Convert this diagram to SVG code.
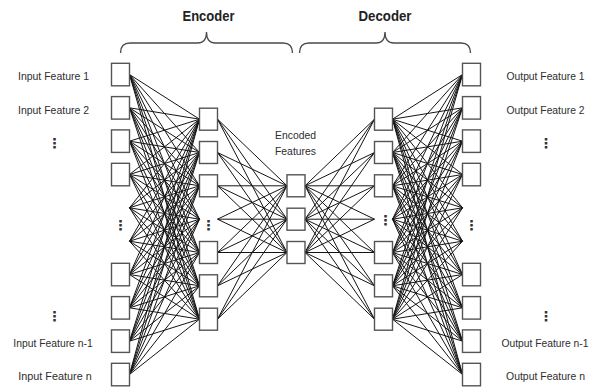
<svg xmlns="http://www.w3.org/2000/svg" width="597" height="389" viewBox="0 0 597 389">
<style>
.lbl{font-family:"Liberation Sans",Arial,sans-serif;font-size:11.5px;fill:#2e2e2e;text-anchor:middle}
.sm{font-size:11px}
.hdr{font-family:"Liberation Sans",Arial,sans-serif;font-size:14.5px;font-weight:bold;fill:#222;text-anchor:middle}
.dots{font-family:"DejaVu Sans",sans-serif;font-size:14px;font-weight:bold;fill:#333;text-anchor:middle}
.box{fill:#fff;stroke:#555;stroke-width:1.4}
.brace{fill:none;stroke:#4a4a4a;stroke-width:1.3}
#connectors path{fill:none;stroke:#141414;stroke-width:1}
</style>
<rect width="597" height="389" fill="#fff"/>
<g id="braces">
<path class="brace" d="M120.5 53Q120.5 43 130 43L197.5 43Q206.5 43 206.5 32Q206.5 43 215.5 43L283 43Q292.5 43 292.5 53"/>
<path class="brace" d="M299.5 53Q299.5 43 309 43L376 43Q385 43 385 32Q385 43 394 43L461 43Q470.5 43 470.5 53"/>
</g>
<text class="hdr" x="208.5" y="21" textLength="52" lengthAdjust="spacingAndGlyphs">Encoder</text>
<text class="hdr" x="385" y="21" textLength="53" lengthAdjust="spacingAndGlyphs">Decoder</text>
<g id="connectors">
<path d="M129.5 74.5L199.5 119.2M129.5 74.5L199.5 152.5M129.5 74.5L199.5 185.8M129.5 74.5L199.5 219.2M129.5 74.5L199.5 252.5M129.5 74.5L199.5 285.8M129.5 74.5L199.5 319.2"/>
<path d="M129.5 107.8L199.5 119.2M129.5 107.8L199.5 152.5M129.5 107.8L199.5 185.8M129.5 107.8L199.5 219.2M129.5 107.8L199.5 252.5M129.5 107.8L199.5 285.8M129.5 107.8L199.5 319.2"/>
<path d="M129.5 141.2L199.5 119.2M129.5 141.2L199.5 152.5M129.5 141.2L199.5 185.8M129.5 141.2L199.5 219.2M129.5 141.2L199.5 252.5M129.5 141.2L199.5 285.8M129.5 141.2L199.5 319.2"/>
<path d="M129.5 174.5L199.5 119.2M129.5 174.5L199.5 152.5M129.5 174.5L199.5 185.8M129.5 174.5L199.5 219.2M129.5 174.5L199.5 252.5M129.5 174.5L199.5 285.8M129.5 174.5L199.5 319.2"/>
<path d="M129.5 207.8L199.5 119.2M129.5 207.8L199.5 152.5M129.5 207.8L199.5 185.8M129.5 207.8L199.5 219.2M129.5 207.8L199.5 252.5M129.5 207.8L199.5 285.8M129.5 207.8L199.5 319.2"/>
<path d="M129.5 241.2L199.5 119.2M129.5 241.2L199.5 152.5M129.5 241.2L199.5 185.8M129.5 241.2L199.5 219.2M129.5 241.2L199.5 252.5M129.5 241.2L199.5 285.8M129.5 241.2L199.5 319.2"/>
<path d="M129.5 274.5L199.5 119.2M129.5 274.5L199.5 152.5M129.5 274.5L199.5 185.8M129.5 274.5L199.5 219.2M129.5 274.5L199.5 252.5M129.5 274.5L199.5 285.8M129.5 274.5L199.5 319.2"/>
<path d="M129.5 307.8L199.5 119.2M129.5 307.8L199.5 152.5M129.5 307.8L199.5 185.8M129.5 307.8L199.5 219.2M129.5 307.8L199.5 252.5M129.5 307.8L199.5 285.8M129.5 307.8L199.5 319.2"/>
<path d="M129.5 341.2L199.5 119.2M129.5 341.2L199.5 152.5M129.5 341.2L199.5 185.8M129.5 341.2L199.5 219.2M129.5 341.2L199.5 252.5M129.5 341.2L199.5 285.8M129.5 341.2L199.5 319.2"/>
<path d="M129.5 374.5L199.5 119.2M129.5 374.5L199.5 152.5M129.5 374.5L199.5 185.8M129.5 374.5L199.5 219.2M129.5 374.5L199.5 252.5M129.5 374.5L199.5 285.8M129.5 374.5L199.5 319.2"/>
<path d="M217.5 119.2L287 185.8M217.5 119.2L287 219.2M217.5 119.2L287 252.5M217.5 152.5L287 185.8M217.5 152.5L287 219.2M217.5 152.5L287 252.5M217.5 185.8L287 185.8M217.5 185.8L287 219.2M217.5 185.8L287 252.5M217.5 219.2L287 185.8M217.5 219.2L287 219.2M217.5 219.2L287 252.5M217.5 252.5L287 185.8M217.5 252.5L287 219.2M217.5 252.5L287 252.5M217.5 285.8L287 185.8M217.5 285.8L287 219.2M217.5 285.8L287 252.5M217.5 319.2L287 185.8M217.5 319.2L287 219.2M217.5 319.2L287 252.5"/>
<path d="M374.5 119.2L305 185.8M374.5 119.2L305 219.2M374.5 119.2L305 252.5M374.5 152.5L305 185.8M374.5 152.5L305 219.2M374.5 152.5L305 252.5M374.5 185.8L305 185.8M374.5 185.8L305 219.2M374.5 185.8L305 252.5M374.5 219.2L305 185.8M374.5 219.2L305 219.2M374.5 219.2L305 252.5M374.5 252.5L305 185.8M374.5 252.5L305 219.2M374.5 252.5L305 252.5M374.5 285.8L305 185.8M374.5 285.8L305 219.2M374.5 285.8L305 252.5M374.5 319.2L305 185.8M374.5 319.2L305 219.2M374.5 319.2L305 252.5"/>
<path d="M462.5 74.5L392.5 119.2M462.5 74.5L392.5 152.5M462.5 74.5L392.5 185.8M462.5 74.5L392.5 219.2M462.5 74.5L392.5 252.5M462.5 74.5L392.5 285.8M462.5 74.5L392.5 319.2"/>
<path d="M462.5 107.8L392.5 119.2M462.5 107.8L392.5 152.5M462.5 107.8L392.5 185.8M462.5 107.8L392.5 219.2M462.5 107.8L392.5 252.5M462.5 107.8L392.5 285.8M462.5 107.8L392.5 319.2"/>
<path d="M462.5 141.2L392.5 119.2M462.5 141.2L392.5 152.5M462.5 141.2L392.5 185.8M462.5 141.2L392.5 219.2M462.5 141.2L392.5 252.5M462.5 141.2L392.5 285.8M462.5 141.2L392.5 319.2"/>
<path d="M462.5 174.5L392.5 119.2M462.5 174.5L392.5 152.5M462.5 174.5L392.5 185.8M462.5 174.5L392.5 219.2M462.5 174.5L392.5 252.5M462.5 174.5L392.5 285.8M462.5 174.5L392.5 319.2"/>
<path d="M462.5 207.8L392.5 119.2M462.5 207.8L392.5 152.5M462.5 207.8L392.5 185.8M462.5 207.8L392.5 219.2M462.5 207.8L392.5 252.5M462.5 207.8L392.5 285.8M462.5 207.8L392.5 319.2"/>
<path d="M462.5 241.2L392.5 119.2M462.5 241.2L392.5 152.5M462.5 241.2L392.5 185.8M462.5 241.2L392.5 219.2M462.5 241.2L392.5 252.5M462.5 241.2L392.5 285.8M462.5 241.2L392.5 319.2"/>
<path d="M462.5 274.5L392.5 119.2M462.5 274.5L392.5 152.5M462.5 274.5L392.5 185.8M462.5 274.5L392.5 219.2M462.5 274.5L392.5 252.5M462.5 274.5L392.5 285.8M462.5 274.5L392.5 319.2"/>
<path d="M462.5 307.8L392.5 119.2M462.5 307.8L392.5 152.5M462.5 307.8L392.5 185.8M462.5 307.8L392.5 219.2M462.5 307.8L392.5 252.5M462.5 307.8L392.5 285.8M462.5 307.8L392.5 319.2"/>
<path d="M462.5 341.2L392.5 119.2M462.5 341.2L392.5 152.5M462.5 341.2L392.5 185.8M462.5 341.2L392.5 219.2M462.5 341.2L392.5 252.5M462.5 341.2L392.5 285.8M462.5 341.2L392.5 319.2"/>
<path d="M462.5 374.5L392.5 119.2M462.5 374.5L392.5 152.5M462.5 374.5L392.5 185.8M462.5 374.5L392.5 219.2M462.5 374.5L392.5 252.5M462.5 374.5L392.5 285.8M462.5 374.5L392.5 319.2"/>
</g>
<g id="input-layer">
<g id="in1"><rect class="box" x="111.5" y="63.3" width="18" height="22.5"/><text class="lbl" x="53.5" y="80" textLength="71" lengthAdjust="spacingAndGlyphs">Input Feature 1</text></g>
<g id="in2"><rect class="box" x="111.5" y="96.6" width="18" height="22.5"/><text class="lbl" x="53.5" y="113.5" textLength="71" lengthAdjust="spacingAndGlyphs">Input Feature 2</text></g>
<g id="in3"><rect class="box" x="111.5" y="129.9" width="18" height="22.5"/><text class="dots" x="54.5" y="148">⋮</text></g>
<g id="in4"><rect class="box" x="111.5" y="163.3" width="18" height="22.5"/></g>
<g id="in-hidden"><text class="dots" x="120.5" y="230">⋮</text></g>
<g id="in7"><rect class="box" x="111.5" y="263.3" width="18" height="22.5"/></g>
<g id="in8"><rect class="box" x="111.5" y="296.6" width="18" height="22.5"/><text class="dots" x="54.5" y="321">⋮</text></g>
<g id="in9"><rect class="box" x="111.5" y="329.9" width="18" height="22.5"/><text class="lbl" x="53" y="347" textLength="79.4" lengthAdjust="spacingAndGlyphs">Input Feature n-1</text></g>
<g id="in10"><rect class="box" x="111.5" y="363.3" width="18" height="22.5"/><text class="lbl" x="55" y="380" textLength="73.4" lengthAdjust="spacingAndGlyphs">Input Feature n</text></g>
</g>
<g id="encoder-layer">
<g id="e1"><rect class="box" x="199.5" y="108.2" width="18" height="22"/></g>
<g id="e2"><rect class="box" x="199.5" y="141.5" width="18" height="22"/></g>
<g id="e3"><rect class="box" x="199.5" y="174.8" width="18" height="22"/></g>
<g id="e-hidden"><text class="dots" x="208.5" y="230">⋮</text></g>
<g id="e5"><rect class="box" x="199.5" y="241.5" width="18" height="22"/></g>
<g id="e6"><rect class="box" x="199.5" y="274.8" width="18" height="22"/></g>
<g id="e7"><rect class="box" x="199.5" y="308.2" width="18" height="22"/></g>
</g>
<g id="code-layer">
<text class="lbl" x="295.5" y="139" textLength="41" lengthAdjust="spacingAndGlyphs">Encoded</text>
<text class="lbl" x="295.5" y="154.5" textLength="41" lengthAdjust="spacingAndGlyphs">Features</text>
<g id="c1"><rect class="box" x="287" y="174.8" width="18" height="22"/></g>
<g id="c2"><rect class="box" x="287" y="208.2" width="18" height="22"/></g>
<g id="c3"><rect class="box" x="287" y="241.5" width="18" height="22"/></g>
</g>
<g id="decoder-layer">
<g id="d1"><rect class="box" x="374.5" y="108.2" width="18" height="22"/></g>
<g id="d2"><rect class="box" x="374.5" y="141.5" width="18" height="22"/></g>
<g id="d3"><rect class="box" x="374.5" y="174.8" width="18" height="22"/></g>
<g id="d-hidden"><text class="dots" x="385.5" y="225">⋮</text></g>
<g id="d5"><rect class="box" x="374.5" y="241.5" width="18" height="22"/></g>
<g id="d6"><rect class="box" x="374.5" y="274.8" width="18" height="22"/></g>
<g id="d7"><rect class="box" x="374.5" y="308.2" width="18" height="22"/></g>
</g>
<g id="output-layer">
<g id="out1"><rect class="box" x="462.5" y="63.3" width="18" height="22.5"/><text class="lbl" x="545.5" y="80" textLength="78" lengthAdjust="spacingAndGlyphs">Output Feature 1</text></g>
<g id="out2"><rect class="box" x="462.5" y="96.6" width="18" height="22.5"/><text class="lbl" x="545.5" y="113.5" textLength="78" lengthAdjust="spacingAndGlyphs">Output Feature 2</text></g>
<g id="out3"><rect class="box" x="462.5" y="129.9" width="18" height="22.5"/><text class="dots" x="546" y="148">⋮</text></g>
<g id="out4"><rect class="box" x="462.5" y="163.3" width="18" height="22.5"/></g>
<g id="out-hidden"><text class="dots" x="471.5" y="230">⋮</text></g>
<g id="out7"><rect class="box" x="462.5" y="263.3" width="18" height="22.5"/></g>
<g id="out8"><rect class="box" x="462.5" y="296.6" width="18" height="22.5"/><text class="dots" x="546" y="321">⋮</text></g>
<g id="out9"><rect class="box" x="462.5" y="329.9" width="18" height="22.5"/><text class="lbl sm" x="545" y="347" textLength="87" lengthAdjust="spacingAndGlyphs">Output Feature n-1</text></g>
<g id="out10"><rect class="box" x="462.5" y="363.3" width="18" height="22.5"/><text class="lbl" x="545.5" y="380" textLength="79" lengthAdjust="spacingAndGlyphs">Output Feature n</text></g>
</g>
</svg>
